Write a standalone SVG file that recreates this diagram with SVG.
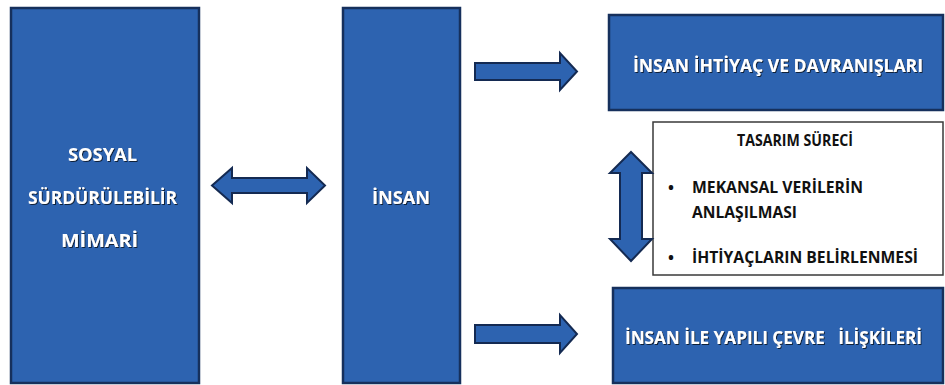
<svg xmlns="http://www.w3.org/2000/svg" width="945" height="385" viewBox="0 0 945 385">
<defs>
<filter id="ts" x="-10%" y="-30%" width="120%" height="160%">
<feDropShadow dx="1" dy="1" stdDeviation="0.7" flood-color="#0b1a33" flood-opacity="0.95"/>
</filter>
<style>
.box{fill:#2d63b0;stroke:#16305c;stroke-width:2.5}
.wbox{fill:#ffffff;stroke:#3a3a3a;stroke-width:1.5}
.arr{fill:#2d63b0;stroke:#142a52;stroke-width:2;stroke-linejoin:miter}
.wt{font-family:"Open Sans","Liberation Sans",sans-serif;font-weight:bold;font-size:17.5px;fill:#ffffff;filter:url(#ts)}
.bt{font-family:"Open Sans","Liberation Sans",sans-serif;font-weight:bold;font-size:15.8px;fill:#111111}
</style>
</defs>
<rect width="945" height="385" fill="#ffffff"/>
<g id="sosyal">
<rect class="box" x="11" y="8" width="188" height="375"/>
<text class="wt" x="68" y="161" textLength="69" lengthAdjust="spacingAndGlyphs">SOSYAL</text>
<text class="wt" x="28" y="204" textLength="149" lengthAdjust="spacingAndGlyphs">SÜRDÜRÜLEBİLİR</text>
<text class="wt" x="61" y="247" textLength="77" lengthAdjust="spacingAndGlyphs">MİMARİ</text>
</g>
<g id="insan">
<rect class="box" x="343" y="8" width="117" height="375"/>
<text class="wt" x="372" y="204" textLength="58" lengthAdjust="spacingAndGlyphs">İNSAN</text>
</g>
<g id="ihtiyac">
<rect class="box" x="609" y="15" width="334" height="95"/>
<text class="wt" x="633" y="72" textLength="290" lengthAdjust="spacingAndGlyphs">İNSAN İHTİYAÇ VE DAVRANIŞLARI</text>
</g>
<g id="tasarim">
<rect class="wbox" x="653" y="122" width="290" height="153"/>
<text class="bt" x="737" y="146" textLength="116" lengthAdjust="spacingAndGlyphs">TASARIM SÜRECİ</text>
<text class="bt" x="668" y="193">•</text>
<text class="bt" x="692" y="193" textLength="171" lengthAdjust="spacingAndGlyphs">MEKANSAL VERİLERİN</text>
<text class="bt" x="692" y="218" textLength="105" lengthAdjust="spacingAndGlyphs">ANLAŞILMASI</text>
<text class="bt" x="668" y="263">•</text>
<text class="bt" x="692" y="263" textLength="226" lengthAdjust="spacingAndGlyphs">İHTİYAÇLARIN BELİRLENMESİ</text>
</g>
<g id="iliskiler">
<rect class="box" x="613" y="288" width="330" height="95"/>
<text class="wt" x="625" y="344" textLength="297" lengthAdjust="spacingAndGlyphs" xml:space="preserve">İNSAN İLE YAPILI ÇEVRE   İLİŞKİLERİ</text>
</g>
<g id="connectors">
<path class="arr" d="M212,185.5 L232,168 L232,178 L307,178 L307,168 L325,185.5 L307,203 L307,193 L232,193 L232,203 Z"/>
<path class="arr" d="M475,63 L560,63 L560,53 L577,71.5 L560,90 L560,80 L475,80 Z"/>
<path class="arr" d="M475,325 L560,325 L560,315 L577,334 L560,353 L560,343 L475,343 Z"/>
<path class="arr" d="M631,152 L652,173 L642,173 L642,239 L652,239 L631,261 L610,239 L620,239 L620,173 L610,173 Z"/>
</g>
</svg>
